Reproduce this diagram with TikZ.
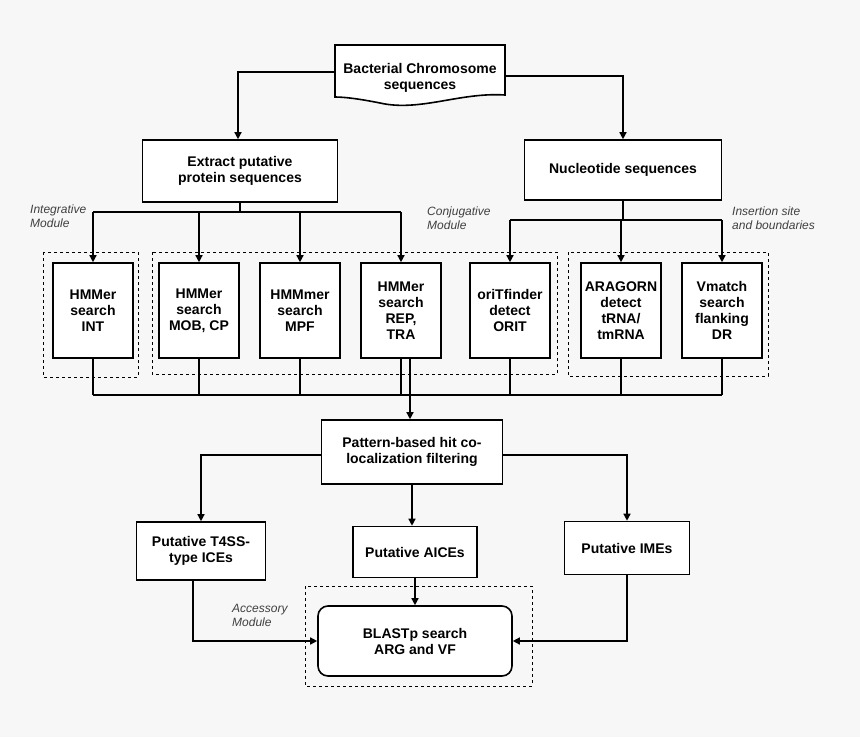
\documentclass[tikz,border=0pt]{standalone}
\usepackage{fontspec}
\setmainfont{Liberation Sans}
\usetikzlibrary{arrows.meta}
\begin{document}
\begin{tikzpicture}[x=1pt,y=-1pt,
  box/.style={draw,line width=1.6pt,fill=white,font=\fontsize{14}{16}\selectfont\bfseries,align=center,inner sep=0pt},
  dbox/.style={draw,dashed,line width=0.9pt},
  lab/.style={font=\fontsize{12}{14}\selectfont\itshape,align=left,anchor=north west,inner sep=0pt,text=black!75},
  ln/.style={line width=1.4pt},
  ar/.style={ln,-{Triangle[length=7pt,width=7pt]}}]
\fill[black!3] (0,0) rectangle (860,737);
\useasboundingbox (0,0) rectangle (860,737);
% dashed modules
\draw[dbox] (43,252) rectangle (138,377);
\draw[dbox] (152,252) rectangle (557,374);
\draw[dbox] (568,252) rectangle (768,376);
\draw[dbox] (305,586) rectangle (532,686);
% doc shape
\draw[line width=1.6pt,fill=white] (335,45) -- (505,45) -- (505,95) .. controls (460,92) and (420,112) .. (380,103) .. controls (360,99) and (345,97) .. (335,97) -- cycle;
\node[box,draw=none,fill=none] (doc) at (420,78) {Bacterial Chromosome\\sequences};
\node[box,minimum width=195pt,minimum height=62pt] (ext) at (240,171) {Extract putative\\protein sequences};
\node[box,minimum width=197pt,minimum height=60pt] (nuc) at (623,170) {Nucleotide sequences};
\foreach \n/\x/\t in {int/93/{HMMer\\search\\INT},mob/199/{HMMer\\search\\MOB, CP},mpf/300/{HMMmer\\search\\MPF},rep/401/{HMMer\\search\\REP,\\TRA},ori/510/{oriTfinder\\detect\\ORIT},ara/621/{ARAGORN\\detect\\tRNA/\\tmRNA},vm/722/{Vmatch\\search\\flanking\\DR}}
  \node[box,minimum width=80pt,minimum height=95pt] (\n) at (\x,310.5) {\t};
\node[box,minimum width=181pt,minimum height=64pt] (pat) at (412,452) {Pattern-based hit co-\\localization filtering};
\node[box,minimum width=129pt,minimum height=58pt] (t4) at (201,551) {Putative T4SS-\\type ICEs};
\node[box,minimum width=124pt,minimum height=51pt] (aice) at (415,552) {Putative AICEs};
\node[box,minimum width=125pt,minimum height=53pt] (ime) at (627,548) {Putative IMEs};
\node[box,rounded corners=10pt,minimum width=194pt,minimum height=70pt] (bl) at (415,641) {BLASTp search\\ARG and VF};
\node[lab] (l1) at (30,205) {Integrative\\Module};
\node[lab] (l2) at (427,207) {Conjugative\\Module};
\node[lab] (l3) at (732,207) {Insertion site\\and boundaries};
\node[lab] (l4) at (232,604) {Accessory\\Module};
% connectors
\draw[ar] (335,72) -| (ext.north -| 238,0);
\draw[ar] (505,76) -| (nuc.north -| 623,0);
\draw[ln] (ext.south) -- (240,212);
\draw[ln] (93,212) -- (401,212);
\foreach \n in {int,mob,mpf,rep} \draw[ar] (\n.north |- 0,212) -- (\n.north);
\draw[ln] (nuc.south) -- (623,220);
\draw[ln] (510,220) -- (722,220);
\foreach \n in {ori,ara,vm} \draw[ar] (\n.north |- 0,220) -- (\n.north);
\foreach \n in {int,mob,mpf,rep,ori,ara,vm} \draw[ln] (\n.south) -- (\n.south |- 0,395);
\draw[ln] (93,395) -- (722,395);
\draw[ar] (410,358) -- (410,395) -- (pat.north -| 410,0);
\draw[ar] (pat.west |- 0,455) -| (t4.north);
\draw[ar] (pat.east |- 0,455) -| (ime.north);
\draw[ar] (pat.south) -- (pat.south |- aice.north);
\draw[ar] (aice.south) -- (bl.north);
\draw[ar] (t4.south -| 193,0) |- (bl.west |- 0,641);
\draw[ar] (ime.south) |- (bl.east |- 0,641);
\end{tikzpicture}
\end{document}
